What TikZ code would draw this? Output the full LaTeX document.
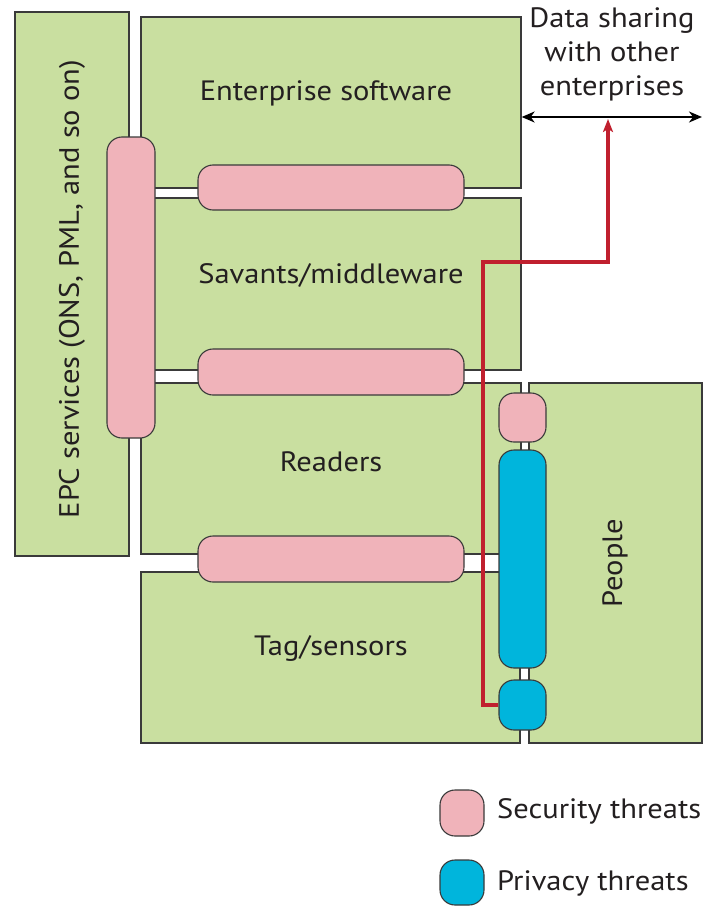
\documentclass[tikz,border=0pt]{standalone}
\usepackage{fontspec}
\setmainfont[FakeStretch=1.09]{PT Sans}
\usetikzlibrary{arrows.meta}
\definecolor{boxgreen}{HTML}{C9DFA0}
\definecolor{secpink}{HTML}{F0B3BA}
\definecolor{privblue}{HTML}{00B5DC}
\definecolor{linegray}{HTML}{3A3A3A}
\definecolor{flowred}{HTML}{C0202E}
\definecolor{txt}{HTML}{231F20}
\tikzset{
  layer/.style={draw=linegray, line width=1.3pt, fill=boxgreen, inner sep=0pt},
  secthreat/.style={draw=linegray, line width=1.1pt, fill=secpink, rounded corners=15pt, inner sep=0pt},
  privthreat/.style={draw=linegray, line width=1.1pt, fill=privblue, rounded corners=15pt, inner sep=0pt},
  lbl/.style={text=txt, font=\fontsize{28}{34}\selectfont, inner sep=0pt},
}
\newcommand{\boxat}[6]{% style, name, x1, y1, x2, y2
  \node[#1, minimum width={#5-#3}, minimum height={#6-#4}] (#2) at ({(#3+#5)/2},{(#4+#6)/2}) {};}
\begin{document}
\begin{tikzpicture}[x=1pt,y=-1pt]
\useasboundingbox (0,0) rectangle (704,907);
% layers
\boxat{layer}{epc}{15}{12}{129}{556}
\boxat{layer}{ent}{141}{17}{521}{188}
\boxat{layer}{sav}{141}{198}{521}{370}
\boxat{layer}{read}{141}{383}{521}{554}
\boxat{layer}{tag}{141}{572}{520}{743}
\boxat{layer}{people}{529}{383}{702}{743}
% labels
\node[lbl] (entlbl) at (326,93) {Enterprise software};
\node[lbl] (savlbl) at (331,275) {Savants/middleware};
\node[lbl] (readlbl) at (331,462) {Readers};
\node[lbl] (taglbl) at (331,648) {Tag/sensors};
\node[lbl, rotate=90] (peoplelbl) at (615,563) {People};
\node[lbl, rotate=90] (epclbl) at (72,289) {EPC services (ONS, PML, and so on)};
% threats
\boxat{secthreat}{v1}{107}{137}{155}{438}
\boxat{secthreat}{h1}{198}{165}{464}{210}
\boxat{secthreat}{h2}{198}{349}{464}{395}
\boxat{secthreat}{h3}{198}{536}{464}{582}
\boxat{secthreat}{p1}{499}{393}{546}{442}
\boxat{privthreat}{b1}{499}{450}{546}{668}
\boxat{privthreat}{b2}{499}{680}{546}{730}
% data sharing
\node[lbl, align=center] (share) at (612,54) {Data sharing\\with other\\enterprises};
\coordinate (shl) at (ent.east |- 0,117);
\coordinate (shr) at (702,117);
\draw[black, line width=1.8pt, {Stealth[length=13pt,width=11pt,inset=4pt]}-{Stealth[length=13pt,width=11pt,inset=4pt]}] (shl) -- (shr);
\coordinate (redtip) at (608,119);
\draw[flowred, line width=3.2pt, -{Stealth[length=13pt,width=10pt,inset=3pt]}] (b2.west) -- (483,705) -- (483,262) -- (608,262) -- (redtip);
% legend
\boxat{secthreat}{legsec}{440}{790}{484}{836}
\boxat{privthreat}{legpriv}{440}{860}{484}{905}
\node[lbl, anchor=west] (legsectxt) at (497,811) {Security threats};
\node[lbl, anchor=west] (legprivtxt) at (497,883) {Privacy threats};
\end{tikzpicture}
\end{document}
